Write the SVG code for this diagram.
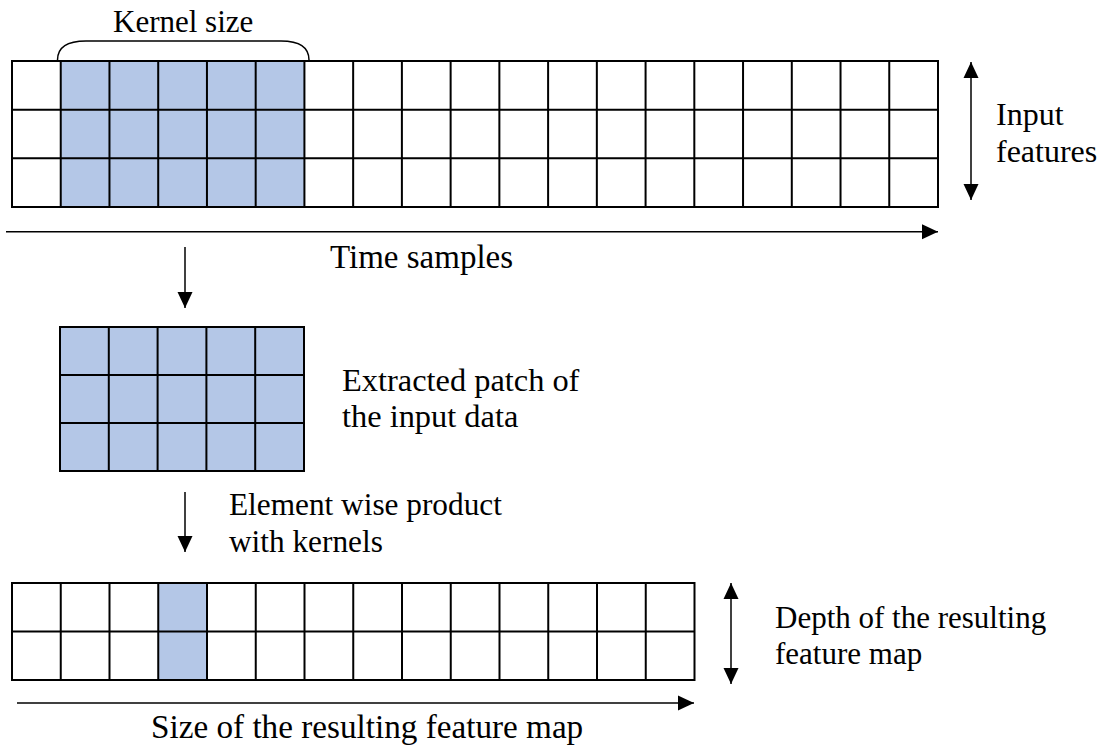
<svg xmlns="http://www.w3.org/2000/svg" width="1100" height="749" viewBox="0 0 1100 749">
  <style>
    .grid { fill: none; stroke: #000; stroke-width: 2; }
    .hl { fill: #B4C7E7; stroke: none; }
    .arr { fill: none; stroke: #000; stroke-width: 1.5; }
    .lbl { font-family: "Liberation Serif", "Times New Roman", serif; font-size: 32px; fill: #000; }
  </style>
  <defs>
    <marker id="ah" markerUnits="userSpaceOnUse" markerWidth="17" markerHeight="16" refX="16" refY="7.5" orient="auto-start-reverse" viewBox="0 0 17 15">
      <path d="M0,0 L16,7.5 L0,15 Z" fill="#000"/>
    </marker>
  </defs>
  <rect width="1100" height="749" fill="#fff"/>

  <g id="input-grid">
    <rect class="hl" x="60.74" y="61" width="243.68" height="146"/>
    <path class="grid" d="M12,61 H938 V207 H12 Z M12,109.67 H938 M12,158.33 H938 M60.74,61 V207 M109.47,61 V207 M158.21,61 V207 M206.95,61 V207 M255.68,61 V207 M304.42,61 V207 M353.16,61 V207 M401.89,61 V207 M450.63,61 V207 M499.37,61 V207 M548.11,61 V207 M596.84,61 V207 M645.58,61 V207 M694.32,61 V207 M743.05,61 V207 M791.79,61 V207 M840.53,61 V207 M889.26,61 V207"/>
  </g>

  <g id="kernel-brace">
    <path class="arr" stroke-width="1.3" d="M57.5,60 C57.5,48 67,41 86,41 L281,41 C300,41 309,48 309,60"/>
    <text class="lbl" x="113" y="32" style="font-size:31px">Kernel size</text>
  </g>

  <g id="input-features-label">
    <text class="lbl" x="996" y="125">Input</text>
    <text class="lbl" x="996" y="162">features</text>
  </g>

  <g id="time-samples-label">
    <text class="lbl" x="330" y="268" style="font-size:33px">Time samples</text>
  </g>

  <g id="patch">
    <rect class="hl" x="60" y="327" width="244" height="144"/>
    <path class="grid" d="M60,327 H304 V471 H60 Z M60,375 H304 M60,423 H304 M108.8,327 V471 M157.6,327 V471 M206.4,327 V471 M255.2,327 V471"/>
  </g>

  <g id="patch-label">
    <text class="lbl" x="342" y="391" style="font-size:32.4px">Extracted patch of</text>
    <text class="lbl" x="342" y="427" style="font-size:32.4px">the input data</text>
  </g>

  <g id="product-label">
    <text class="lbl" x="229" y="515" style="font-size:31.3px">Element wise product</text>
    <text class="lbl" x="229" y="552" style="font-size:31.3px">with kernels</text>
  </g>

  <g id="output-grid">
    <rect class="hl" x="158.25" y="583" width="48.75" height="97"/>
    <path class="grid" d="M12,583 H694.5 V680 H12 Z M12,631.5 H694.5 M60.75,583 V680 M109.5,583 V680 M158.25,583 V680 M207,583 V680 M255.75,583 V680 M304.5,583 V680 M353.25,583 V680 M402,583 V680 M450.75,583 V680 M499.5,583 V680 M548.25,583 V680 M597,583 V680 M645.75,583 V680"/>
  </g>

  <g id="depth-label">
    <text class="lbl" x="775" y="628" style="font-size:31px">Depth of the resulting</text>
    <text class="lbl" x="775" y="664" style="font-size:31px">feature map</text>
  </g>

  <g id="size-label">
    <text class="lbl" x="151" y="738" style="font-size:33.2px">Size of the resulting feature map</text>
  </g>

  <g id="connectors">
    <line class="arr" x1="971" y1="62" x2="971" y2="200" marker-start="url(#ah)" marker-end="url(#ah)"/>
    <line class="arr" x1="6" y1="231.7" x2="938" y2="231.7" marker-end="url(#ah)"/>
    <line class="arr" x1="185" y1="247" x2="185" y2="308" marker-end="url(#ah)"/>
    <line class="arr" x1="185" y1="492" x2="185" y2="552" marker-end="url(#ah)"/>
    <line class="arr" x1="731" y1="583" x2="731" y2="684" marker-start="url(#ah)" marker-end="url(#ah)"/>
    <line class="arr" x1="17" y1="703" x2="694" y2="703" marker-end="url(#ah)"/>
  </g>
</svg>
